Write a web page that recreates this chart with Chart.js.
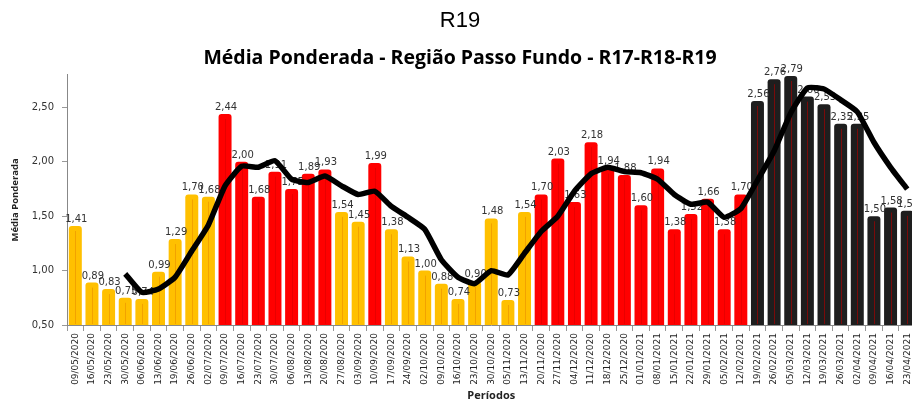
<!DOCTYPE html>
<html>
<head>
<meta charset="utf-8">
<script src="https://cdn.jsdelivr.net/npm/chart.js@4.4.1/dist/chart.umd.min.js"></script>
<style>
html, body { margin: 0; padding: 0; overflow: hidden; background: #fff; width: 912px; height: 401px; }
#wrap { position: absolute; left: 0; top: 0; width: 920px; height: 401px; }
</style>
</head>
<body>
<div id="wrap"><canvas id="c" width="920" height="401"></canvas></div>
<script>
// ---- data ----
const categories = [
  '09/05/2020','16/05/2020','23/05/2020','30/05/2020','06/06/2020','13/06/2020','19/06/2020','26/06/2020','02/07/2020',
  '09/07/2020','16/07/2020','23/07/2020','30/07/2020','06/08/2020','13/08/2020','20/08/2020','27/08/2020','03/09/2020',
  '10/09/2020','17/09/2020','24/09/2020','02/10/2020','09/10/2020','16/10/2020','23/10/2020','30/10/2020','05/11/2020',
  '13/11/2020','20/11/2020','27/11/2020','04/12/2020','11/12/2020','18/12/2020','25/12/2020','01/01/2021','08/01/2021',
  '15/01/2021','22/01/2021','29/01/2021','05/02/2021','12/02/2021','19/02/2021','26/02/2021','05/03/2021','12/03/2021',
  '19/03/2021','26/03/2021','02/04/2021','09/04/2021','16/04/2021','23/04/2021'
];
const mediaPonderada = [
  1.41, 0.89, 0.83, 0.75, 0.74, 0.99, 1.29, 1.70, 1.68,
  2.44, 2.00, 1.68, 1.91, 1.75, 1.89, 1.93, 1.54, 1.45,
  1.99, 1.38, 1.13, 1.00, 0.88, 0.74, 0.90, 1.48, 0.73,
  1.54, 1.70, 2.03, 1.63, 2.18, 1.94, 1.88, 1.60, 1.94,
  1.38, 1.52, 1.66, 1.38, 1.70, 2.56, 2.76, 2.79, 2.60,
  2.53, 2.35, 2.35, 1.50, 1.58, 1.55
];
const mediaMovel = [
  null, null, null, 0.97, 0.80, 0.83, 0.94, 1.18, 1.42,
  1.78, 1.96, 1.95, 2.01, 1.84, 1.81, 1.87, 1.78, 1.70,
  1.73, 1.59, 1.49, 1.38, 1.10, 0.94, 0.88, 1.00, 0.96,
  1.16, 1.36, 1.50, 1.73, 1.89, 1.95, 1.91, 1.90, 1.84,
  1.70, 1.61, 1.63, 1.49, 1.57, 1.83, 2.10, 2.45, 2.68,
  2.67, 2.57, 2.46, 2.18, 1.95, 1.75
];
// flag color per period: A = amarelo, V = vermelho, P = preto
const bandeira = [
  'A','A','A','A','A','A','A','A','A',
  'V','V','V','V','V','V','V','A','A',
  'V','A','A','A','A','A','A','A','A',
  'A','V','V','V','V','V','V','V','V',
  'V','V','V','V','V','P','P','P','P',
  'P','P','P','P','P','P'
];
const yTicks = [0.5, 1.0, 1.5, 2.0, 2.5];

const fill = { A: '#FFC000', V: '#FF0000', P: '#1E1E1E' };
const stripe = { A: '#F2A200', V: '#E80000', P: '#7A0A0A' };
const fmt = v => v.toFixed(2).replace('.', ',');

const barExtras = {
  id: 'barExtras',
  afterDatasetDraw(chart, args) {
    if (args.index !== 1) return;
    const ctx = chart.ctx;
    const meta = args.meta;
    const bottom = chart.chartArea.bottom;
    ctx.save();
    meta.data.forEach((bar, i) => {
      ctx.strokeStyle = stripe[bandeira[i]];
      ctx.lineWidth = 1;
      ctx.beginPath();
      ctx.moveTo(Math.round(bar.x) + 0.5, bar.y + 5);
      ctx.lineTo(Math.round(bar.x) + 0.5, bottom - 1);
      ctx.stroke();
    });
    ctx.font = '10px "DejaVu Sans"';
    ctx.fillStyle = '#333';
    ctx.textAlign = 'center';
    ctx.textBaseline = 'alphabetic';
    meta.data.forEach((bar, i) => {
      ctx.fillText(fmt(mediaPonderada[i]), bar.x + 1, bar.y - 4);
    });
    ctx.restore();
  }
};

new Chart(document.getElementById('c'), {
  data: {
    labels: categories,
    datasets: [
      {
        type: 'line',
        label: 'Média móvel',
        data: mediaMovel,
        borderColor: '#000',
        borderWidth: 5.5,
        pointRadius: 0,
        tension: 0.15,
        borderJoinStyle: 'round',
        borderCapStyle: 'butt',
        spanGaps: false,
        order: 0
      },
      {
        type: 'bar',
        label: 'Média Ponderada',
        data: mediaPonderada,
        backgroundColor: bandeira.map(b => fill[b]),
        borderWidth: 0,
        borderRadius: { topLeft: 3, topRight: 3, bottomLeft: 0, bottomRight: 0 },
        borderSkipped: 'bottom',
        categoryPercentage: 1,
        barPercentage: 0.78,
        order: 1
      }
    ]
  },
  options: {
    responsive: false,
    animation: false,
    events: [],
    layout: { padding: { left: 0, right: 0, top: 0, bottom: 0 } },
    plugins: {
      legend: { display: false },
      tooltip: { enabled: false },
      title: {
        display: true,
        text: 'R19',
        color: '#000',
        font: { family: '"Liberation Sans", Arial, sans-serif', size: 22, weight: 'normal', lineHeight: 1.2 },
        padding: { top: 8, bottom: 3 }
      },
      subtitle: {
        display: true,
        text: 'Média Ponderada - Região Passo Fundo - R17-R18-R19',
        color: '#000',
        font: { family: '"Liberation Sans Narrow", "Open Sans", sans-serif', size: 19.5, weight: 'bold', lineHeight: 1.1 },
        padding: { top: 10, bottom: 6 }
      }
    },
    scales: {
      x: {
        offset: true,
        grid: { display: true, drawOnChartArea: false, drawTicks: true, tickLength: 6, color: '#999', offset: true },
        border: { display: true, color: '#888', width: 1 },
        ticks: {
          autoSkip: false, maxRotation: 90, minRotation: 90,
          color: '#222', padding: 2,
          font: { family: '"DejaVu Sans", Verdana, sans-serif', size: 9 }
        },
        title: {
          display: true, text: 'Períodos', color: '#222', padding: { top: 0, bottom: 0 },
          font: { family: '"Liberation Sans Narrow", "Open Sans", sans-serif', size: 11, weight: 'bold', lineHeight: 1 }
        },
        afterFit(scale) { scale.height = 76; }
      },
      y: {
        min: 0.5, max: 2.8,
        afterBuildTicks(scale) { scale.ticks = yTicks.map(v => ({ value: v })); },
        grid: { display: true, drawOnChartArea: false, drawTicks: true, tickLength: 5, color: '#999' },
        border: { display: true, color: '#888', width: 1 },
        ticks: {
          color: '#333', padding: 8,
          font: { family: '"DejaVu Sans", Verdana, sans-serif', size: 10 },
          callback: v => fmt(v)
        },
        title: {
          display: true, text: 'Média Ponderada', color: '#222', padding: { top: 10, bottom: 6 },
          font: { family: '"Liberation Sans Narrow", "Open Sans", sans-serif', size: 9.5, weight: 'bold' }
        },
        afterFit(scale) { scale.width = 67; }
      }
    }
  },
  plugins: [barExtras]
});
</script>
</body>
</html>
